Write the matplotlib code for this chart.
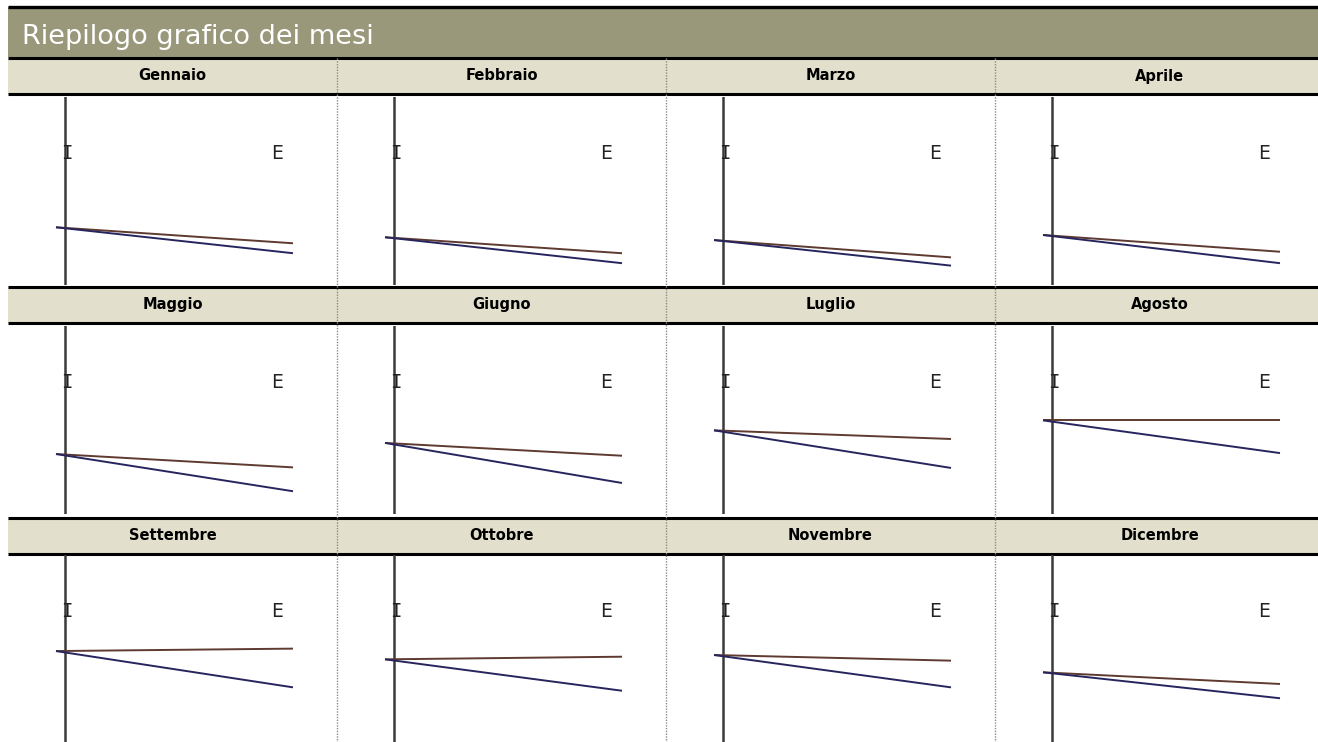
import matplotlib
matplotlib.use("Agg")
import matplotlib.pyplot as plt
from matplotlib.patches import Rectangle

# values, vertical axis of each small chart runs 0..100
months = ["Gennaio", "Febbraio", "Marzo", "Aprile",
          "Maggio", "Giugno", "Luglio", "Agosto",
          "Settembre", "Ottobre", "Novembre", "Dicembre"]
points = ["I", "E"]
start_vals = [30.7, 25.4, 23.9, 26.6, 31.9, 37.8, 44.5, 49.8, 48.9, 44.5, 46.8, 37.6]
brown_end = [22.2, 16.9, 14.7, 17.7, 24.8, 31.0, 39.9, 49.8, 50.2, 45.9, 43.8, 31.4]
blue_end = [16.9, 11.6, 10.3, 11.6, 12.1, 16.5, 24.5, 32.4, 29.6, 27.8, 29.6, 23.8]

W, H = 1318, 742
OLIVE = "#9a987a"
BEIGE = "#e2e0cc"
BROWN = "#5e3a30"
NAVY = "#26255e"

fig = plt.figure(figsize=(W / 100, H / 100), dpi=100)
fig.patch.set_facecolor("white")

bg = fig.add_axes([0, 0, 1, 1])
bg.set_xlim(0, W)
bg.set_ylim(H, 0)
bg.axis("off")

x0 = 8
col_w = 329
# title band
bg.add_patch(Rectangle((x0, 7), W - x0, 50, facecolor=OLIVE, edgecolor="none"))
bg.hlines(6.5, x0, W, color="black", lw=2.4)
bg.text(x0 + 14, 37, "Riepilogo grafico dei mesi", color="white", fontsize=19.5,
        ha="left", va="center")

header_tops = [57.5, 286.5, 517.5]
chart_tops = [97, 326, 555]
for top in header_tops:
    bg.add_patch(Rectangle((x0, top), W - x0, 36, facecolor=BEIGE, edgecolor="none"))
    bg.hlines([top, top + 36], x0, W, color="black", lw=2.2)

for c in range(1, 4):
    bg.vlines(x0 + c * col_w, 58, H, color="#8a8a8a", lw=1.0, linestyles=(0, (1, 1)))


def fig_box(left, top, width, height):
    return [left / W, 1 - (top + height) / H, width / W, height / H]


px_per_unit = 237.0
line_off = 48.0
for i, name in enumerate(months):
    r, c = divmod(i, 4)
    left = x0 + c * col_w
    bg.text(left + col_w / 2, header_tops[r] + 18.5, name, fontsize=10.5,
            fontweight="bold", ha="center", va="center", color="black")

    ax = fig.add_axes(fig_box(left, chart_tops[r], col_w, 188))
    ax.set_xlim(-line_off / px_per_unit, (col_w - line_off) / px_per_unit)
    ax.set_ylim(0, 100)
    ax.axis("off")
    axis_x = 9 / px_per_unit
    ax.axvline(axis_x, ymin=0, ymax=1, color="#3a3a3a", lw=1.8)
    ax.plot([0, 1], [start_vals[i], brown_end[i]], color=BROWN, lw=1.4,
            solid_capstyle="butt")
    ax.plot([0, 1], [start_vals[i], blue_end[i]], color=NAVY, lw=1.4,
            solid_capstyle="butt")
    ax.text(axis_x - 4 / px_per_unit, 70, points[0], family="DejaVu Sans Mono",
            fontsize=13.5, ha="left", va="center", color="#222222")
    ax.text(215 / px_per_unit, 70, points[1], fontsize=13.5,
            ha="left", va="center", color="#222222")

fig.savefig("out.png", dpi=100, facecolor="white")
